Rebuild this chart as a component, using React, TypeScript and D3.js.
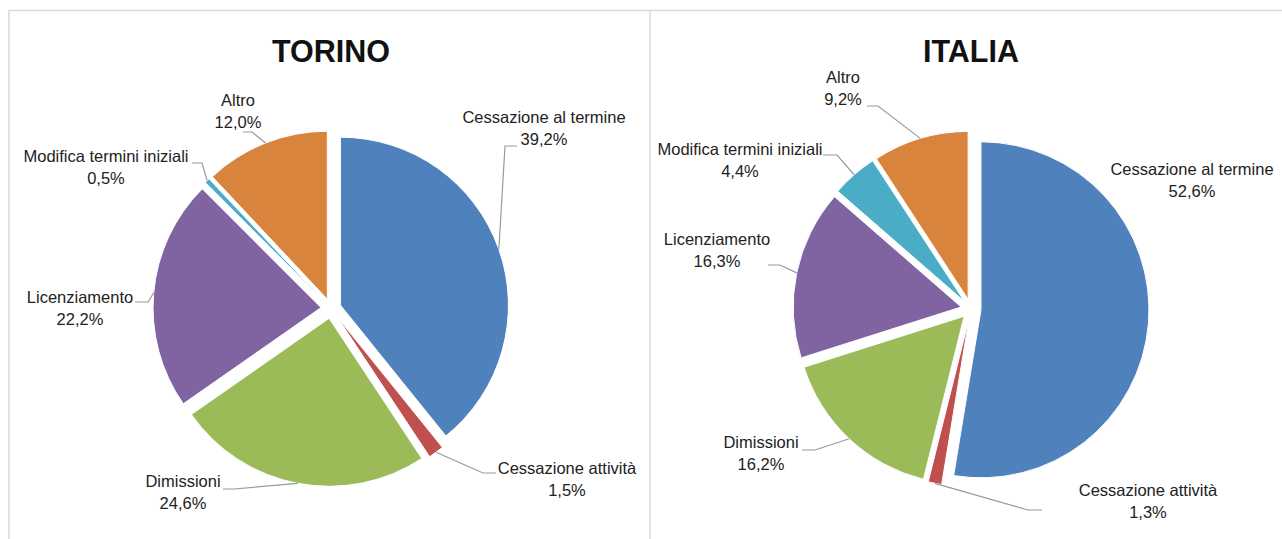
import React from "react";
import * as d3 from "d3";

const categories = [
  "Cessazione al termine",
  "Cessazione attività",
  "Dimissioni",
  "Licenziamento",
  "Modifica termini iniziali",
  "Altro",
];
const torinoValues = [39.2, 1.5, 24.6, 22.2, 0.5, 12.0];
const italiaValues = [52.6, 1.3, 16.2, 16.3, 4.4, 9.2];
const titles = ["TORINO", "ITALIA"];

const colors = ["#4F81BD", "#C0504D", "#9BBB59", "#8064A2", "#4BACC6", "#D9843D"];

type LabelLayout = { x: number; y: number; leader?: [number, number][] };

// label layout (text centre x, first baseline y, leader elbow and end)
const torinoLabels: LabelLayout[] = [
  { x: 544, y: 123, leader: [[505, 146], [517, 146]] },
  { x: 567, y: 474, leader: [[483, 473], [496, 473]] },
  { x: 183, y: 487, leader: [[234, 489], [223, 489]] },
  { x: 80, y: 303, leader: [[148, 302], [135, 302]] },
  { x: 106, y: 162, leader: [[202, 163], [192, 163]] },
  { x: 238, y: 106, leader: [[252, 132], [243, 132]] },
];
const italiaLabels: LabelLayout[] = [
  { x: 1192, y: 175 },
  { x: 1148, y: 496, leader: [[1028, 510], [1042, 510]] },
  { x: 761, y: 448, leader: [[815, 450], [802, 450]] },
  { x: 717, y: 245, leader: [[780, 265], [768, 265]] },
  { x: 740, y: 155, leader: [[837, 155], [823, 155]] },
  { x: 843, y: 83, leader: [[878, 106], [867, 106]] },
];

const fmt = (v: number) => v.toFixed(1).replace(".", ",") + "%";

const R = 168;
const EXPLODE = 10;
const FONT = "'Liberation Sans', Arial, sans-serif";

function Pie({ cx, cy, values, labels, title }: { cx: number; cy: number; values: number[]; labels: LabelLayout[]; title: string }) {
  const pie = d3.pie<number>().sort(null).value((d) => d);
  const arcs = pie(values);
  const arc = d3.arc<d3.PieArcDatum<number>>().innerRadius(0).outerRadius(R);
  return (
    <g>
      <text x={cx} y={62} textAnchor="middle" fontFamily={FONT} fontWeight="bold" fontSize={30.5} fill="#111">
        {title}
      </text>
      {arcs.map((a, i) => {
        const mid = (a.startAngle + a.endAngle) / 2;
        const dx = EXPLODE * Math.sin(mid);
        const dy = -EXPLODE * Math.cos(mid);
        return (
          <path
            key={i}
            d={arc(a) || ""}
            transform={`translate(${cx + dx},${cy + dy})`}
            fill={colors[i]}
            stroke="#fff"
            strokeWidth={1}
          />
        );
      })}
      {arcs.map((a, i) => {
        const lay = labels[i];
        if (!lay.leader) return null;
        const mid = (a.startAngle + a.endAngle) / 2;
        const px = cx + (R + EXPLODE) * Math.sin(mid);
        const py = cy - (R + EXPLODE) * Math.cos(mid);
        const pts: [number, number][] = [[px, py], ...lay.leader];
        const line = d3.line()(pts) || "";
        return <path key={"l" + i} d={line} fill="none" stroke="#9a9a9a" strokeWidth={1.2} />;
      })}
      {arcs.map((a, i) => {
        const lay = labels[i];
        return (
          <text key={"t" + i} textAnchor="middle" fontFamily={FONT} fontSize={16.5} fill="#222">
            <tspan x={lay.x} y={lay.y}>{categories[i]}</tspan>
            <tspan x={lay.x} y={lay.y + 22}>{fmt(values[i])}</tspan>
          </text>
        );
      })}
    </g>
  );
}

export default function App() {
  return (
    <svg
      width={1282}
      height={539}
      style={{ position: "absolute", left: 0, top: 0, background: "#fff" }}
    >
      <rect x={0} y={0} width={1282} height={539} fill="#fff" />
      <line x1={9} x2={1282} y1={10.5} y2={10.5} stroke="#d9d9d9" strokeWidth={1.5} />
      <line x1={9} x2={9} y1={10} y2={539} stroke="#d9d9d9" strokeWidth={1.5} />
      <line x1={650} x2={650} y1={10} y2={539} stroke="#d9d9d9" strokeWidth={1.5} />
      <Pie cx={331} cy={308.5} values={torinoValues} labels={torinoLabels} title={titles[0]} />
      <Pie cx={971} cy={309} values={italiaValues} labels={italiaLabels} title={titles[1]} />
    </svg>
  );
}
